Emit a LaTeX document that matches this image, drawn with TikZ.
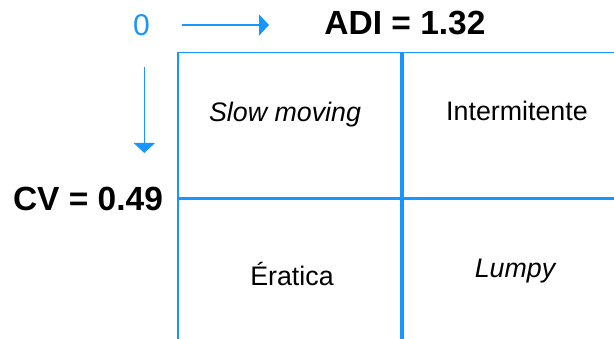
\documentclass[tikz,border=0pt]{standalone}
\usepackage{fontspec}
\setmainfont{Liberation Sans}
\usetikzlibrary{arrows.meta}
\definecolor{gridblue}{RGB}{24,150,255}
\tikzset{
  lbl/.style={anchor=base, inner sep=0pt, font=\fontsize{33.5}{38}\selectfont\bfseries},
  cell/.style={anchor=base, inner sep=0pt, font=\fontsize{26.8}{31}\selectfont},
  icell/.style={anchor=base, inner sep=0pt, font=\fontsize{26.8}{31}\selectfont\itshape},
  axisarrow/.style={draw=gridblue, line width=1.5pt, -{Triangle[length=10pt,width=21pt]}},
  thinline/.style={draw=gridblue, line width=1.6pt},
  thickline/.style={draw=gridblue, line width=3.4pt}
}
\begin{document}
\begin{tikzpicture}[x=1pt,y=-1pt]
\useasboundingbox (0,0) rectangle (614,339);
% grid
\draw[thinline] (178,339) -- (178,52.5) -- (614,52.5);
\draw[thickline] (402,52.5) -- (402,339);
\draw[thickline] (178,198.5) -- (614,198.5);
% labels
\node[anchor=base, inner sep=0pt, text=gridblue, font=\fontsize{30}{35}\selectfont] (zero) at (141.5,36) {0};
\node[lbl] (adi) at (405,35) {ADI = 1.32};
\node[lbl] (cv) at (88,211) {CV = 0.49};
% arrows
\coordinate (hs) at (182,25);
\coordinate (he) at (269,25);
\coordinate (vs) at (144.3,67);
\coordinate (ve) at (144.3,153);
\draw[axisarrow] (hs) -- (he);
\draw[axisarrow] (vs) -- (ve);
% cells
\node[icell] (slow) at (285,122) {Slow moving};
\node[cell] (inter) at (517,121) {Intermitente};
\node[cell] (erat) at (292,286) {Ératica};
\node[icell] (lumpy) at (515,278) {Lumpy};
\end{tikzpicture}
\end{document}
